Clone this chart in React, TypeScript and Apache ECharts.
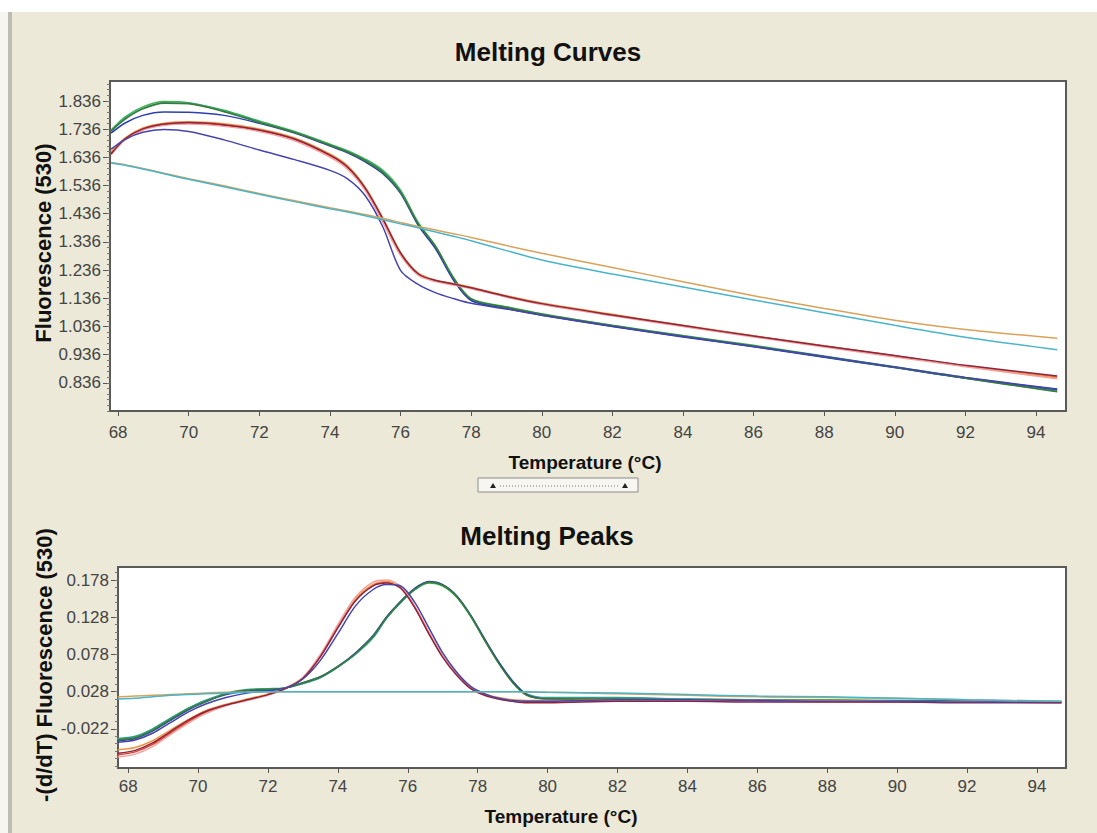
import React, { useEffect, useRef } from "react";
import * as echarts from "echarts";

const W = 1097;
const H = 833;

// ---------- axis ticks ----------
const xTickValues = [68, 70, 72, 74, 76, 78, 80, 82, 84, 86, 88, 90, 92, 94];
const curveYTicks = [0.836, 0.936, 1.036, 1.136, 1.236, 1.336, 1.436, 1.536, 1.636, 1.736, 1.836];
const peakYTicks = [-0.022, 0.028, 0.078, 0.128, 0.178];

// ---------- Melting Curves (fluorescence) ----------
const curveTemps = [67.8, 68.2, 68.7, 69.3, 70, 71, 72, 73, 74, 74.5, 75, 75.5, 76, 76.5, 77, 77.5, 78, 79, 80, 82, 84, 86, 88, 90, 92, 94.6];

const greenA = [1.733, 1.780, 1.815, 1.834, 1.830, 1.803, 1.765, 1.728, 1.683, 1.660, 1.630, 1.590, 1.520, 1.405, 1.320, 1.210, 1.135, 1.106, 1.081, 1.040, 1.004, 0.969, 0.931, 0.893, 0.855, 0.810];
const tealA = [1.728, 1.775, 1.810, 1.830, 1.828, 1.800, 1.762, 1.725, 1.680, 1.657, 1.626, 1.585, 1.515, 1.400, 1.315, 1.205, 1.132, 1.103, 1.078, 1.038, 1.001, 0.966, 0.928, 0.890, 0.852, 0.806];
const blueA = [1.722, 1.758, 1.785, 1.797, 1.796, 1.785, 1.757, 1.722, 1.676, 1.652, 1.620, 1.578, 1.508, 1.395, 1.310, 1.200, 1.128, 1.100, 1.076, 1.036, 0.999, 0.964, 0.927, 0.890, 0.853, 0.812];
const darkGreenA = [1.730, 1.772, 1.808, 1.828, 1.826, 1.798, 1.760, 1.724, 1.679, 1.655, 1.624, 1.582, 1.512, 1.400, 1.318, 1.208, 1.134, 1.104, 1.079, 1.039, 1.002, 0.967, 0.929, 0.891, 0.852, 0.804];
const redB = [1.650, 1.700, 1.735, 1.752, 1.758, 1.750, 1.732, 1.700, 1.642, 1.600, 1.525, 1.415, 1.295, 1.222, 1.198, 1.186, 1.172, 1.142, 1.116, 1.076, 1.038, 1.001, 0.966, 0.931, 0.896, 0.856];
const orangeB = [1.655, 1.705, 1.740, 1.757, 1.762, 1.755, 1.737, 1.705, 1.648, 1.606, 1.530, 1.420, 1.300, 1.225, 1.200, 1.188, 1.175, 1.145, 1.119, 1.079, 1.040, 1.003, 0.968, 0.932, 0.896, 0.854];
const pinkB = [1.645, 1.698, 1.733, 1.750, 1.754, 1.746, 1.728, 1.695, 1.637, 1.594, 1.518, 1.405, 1.288, 1.218, 1.195, 1.183, 1.170, 1.140, 1.114, 1.074, 1.036, 0.999, 0.963, 0.928, 0.893, 0.850];
const maroonB = [1.648, 1.702, 1.737, 1.754, 1.760, 1.752, 1.733, 1.701, 1.644, 1.602, 1.527, 1.418, 1.297, 1.223, 1.199, 1.187, 1.173, 1.143, 1.117, 1.077, 1.039, 1.002, 0.967, 0.933, 0.898, 0.860];
const blueLow = [1.665, 1.700, 1.725, 1.735, 1.728, 1.698, 1.662, 1.628, 1.590, 1.560, 1.500, 1.389, 1.235, 1.185, 1.155, 1.135, 1.118, 1.098, 1.076, 1.037, 1.000, 0.965, 0.929, 0.892, 0.855, 0.814];
const tanC = [1.618, 1.610, 1.597, 1.580, 1.560, 1.535, 1.508, 1.482, 1.457, 1.446, 1.433, 1.420, 1.405, 1.391, 1.378, 1.365, 1.352, 1.323, 1.296, 1.245, 1.195, 1.145, 1.100, 1.058, 1.025, 0.994];
const cyanC = [1.616, 1.608, 1.595, 1.578, 1.558, 1.532, 1.505, 1.479, 1.454, 1.442, 1.429, 1.415, 1.400, 1.386, 1.371, 1.356, 1.340, 1.305, 1.272, 1.222, 1.176, 1.130, 1.085, 1.040, 0.998, 0.953];

// ---------- Melting Peaks (-dF/dT) ----------
const peakTemps = [67.7, 68.2, 68.7, 69.2, 69.7, 70.2, 70.8, 71.4, 72, 72.5, 73, 73.5, 74, 74.5, 75, 75.4, 75.8, 76.2, 76.6, 77, 77.4, 77.8, 78.2, 78.6, 79, 79.4, 80, 82, 84, 86, 88, 90, 92, 94.7];

const greenA_d = [-0.036, -0.033, -0.023, -0.009, 0.005, 0.015, 0.025, 0.030, 0.031, 0.033, 0.039, 0.047, 0.061, 0.079, 0.101, 0.128, 0.148, 0.165, 0.174, 0.170, 0.155, 0.129, 0.097, 0.067, 0.041, 0.024, 0.019, 0.019, 0.018, 0.017, 0.017, 0.016, 0.016, 0.014];
const tealA_d = [-0.035, -0.032, -0.022, -0.008, 0.005, 0.016, 0.026, 0.031, 0.032, 0.033, 0.039, 0.047, 0.061, 0.078, 0.100, 0.127, 0.148, 0.165, 0.175, 0.171, 0.156, 0.130, 0.098, 0.068, 0.042, 0.025, 0.020, 0.020, 0.018, 0.017, 0.016, 0.016, 0.015, 0.014];
const blueA_d = [-0.038, -0.035, -0.025, -0.011, 0.003, 0.014, 0.024, 0.029, 0.030, 0.033, 0.040, 0.048, 0.062, 0.080, 0.103, 0.129, 0.150, 0.167, 0.176, 0.172, 0.157, 0.131, 0.099, 0.068, 0.042, 0.024, 0.018, 0.017, 0.016, 0.016, 0.015, 0.015, 0.015, 0.014];
const darkGreenA_d = [-0.037, -0.034, -0.024, -0.010, 0.004, 0.014, 0.025, 0.030, 0.031, 0.033, 0.040, 0.048, 0.062, 0.079, 0.102, 0.128, 0.149, 0.166, 0.175, 0.171, 0.156, 0.130, 0.097, 0.066, 0.040, 0.023, 0.018, 0.018, 0.017, 0.016, 0.016, 0.015, 0.015, 0.014];
const redB_d = [-0.057, -0.053, -0.043, -0.028, -0.013, 0.000, 0.010, 0.017, 0.024, 0.032, 0.046, 0.075, 0.114, 0.151, 0.171, 0.175, 0.167, 0.141, 0.107, 0.075, 0.051, 0.033, 0.024, 0.019, 0.016, 0.014, 0.014, 0.016, 0.016, 0.015, 0.015, 0.014, 0.014, 0.013];
const orangeB_d = [-0.050, -0.047, -0.038, -0.024, -0.010, 0.002, 0.011, 0.018, 0.025, 0.033, 0.047, 0.076, 0.115, 0.152, 0.172, 0.176, 0.168, 0.142, 0.108, 0.076, 0.052, 0.034, 0.025, 0.020, 0.017, 0.016, 0.016, 0.017, 0.017, 0.016, 0.016, 0.015, 0.014, 0.014];
const pinkB_d = [-0.060, -0.056, -0.046, -0.030, -0.015, -0.002, 0.009, 0.016, 0.023, 0.032, 0.047, 0.078, 0.118, 0.155, 0.175, 0.178, 0.169, 0.143, 0.108, 0.076, 0.051, 0.032, 0.023, 0.018, 0.015, 0.014, 0.015, 0.016, 0.016, 0.015, 0.014, 0.014, 0.014, 0.013];
const maroonB_d = [-0.055, -0.051, -0.041, -0.026, -0.011, 0.001, 0.010, 0.017, 0.024, 0.032, 0.046, 0.075, 0.114, 0.150, 0.170, 0.174, 0.167, 0.141, 0.106, 0.074, 0.050, 0.032, 0.023, 0.018, 0.015, 0.013, 0.013, 0.015, 0.015, 0.014, 0.014, 0.014, 0.013, 0.013];
const blueLow_d = [-0.040, -0.037, -0.028, -0.014, 0.000, 0.011, 0.020, 0.026, 0.029, 0.033, 0.045, 0.070, 0.106, 0.143, 0.165, 0.172, 0.170, 0.148, 0.114, 0.080, 0.054, 0.035, 0.025, 0.019, 0.016, 0.015, 0.015, 0.017, 0.017, 0.016, 0.015, 0.015, 0.014, 0.014];
const tanC_d = [0.021, 0.022, 0.023, 0.024, 0.025, 0.026, 0.027, 0.027, 0.028, 0.028, 0.028, 0.028, 0.028, 0.028, 0.028, 0.028, 0.028, 0.028, 0.028, 0.028, 0.028, 0.028, 0.028, 0.028, 0.028, 0.027, 0.027, 0.025, 0.023, 0.021, 0.020, 0.019, 0.017, 0.015];
const cyanC_d = [0.018, 0.019, 0.021, 0.023, 0.024, 0.025, 0.026, 0.027, 0.028, 0.028, 0.028, 0.028, 0.028, 0.028, 0.028, 0.028, 0.028, 0.028, 0.028, 0.028, 0.028, 0.028, 0.028, 0.028, 0.028, 0.028, 0.027, 0.026, 0.024, 0.022, 0.021, 0.019, 0.017, 0.015];

const sampleNames = ["A1", "A2", "A3", "A4", "B1", "B2", "B3", "B4", "B5", "C1", "C2"];
const sampleColors = ["#3cb54c", "#2f9f8c", "#2c3fb6", "#3d7a3a", "#e63c2e", "#f09440", "#f2a09e", "#8e2440", "#4545ad", "#d9a25a", "#4ab4c8"];
const curveSets = [greenA, tealA, blueA, darkGreenA, redB, orangeB, pinkB, maroonB, blueLow, tanC, cyanC];
const peakSets = [greenA_d, tealA_d, blueA_d, darkGreenA_d, redB_d, orangeB_d, pinkB_d, maroonB_d, blueLow_d, tanC_d, cyanC_d];

const FONT = "'Liberation Sans', Arial, sans-serif";
const BG = "#ECE9D8";

function minorTicks(lo: number, hi: number, step: number): number[] {
  const out: number[] = [];
  for (let v = lo; v <= hi + 1e-9; v += step) out.push(Math.round(v * 10000) / 10000);
  return out;
}

export default function App() {
  const ref = useRef<HTMLDivElement>(null);
  useEffect(() => {
    document.body.style.margin = "0";
    const chart = echarts.init(ref.current!, undefined, { renderer: "svg" });

    const xAxisBase = (grid: number, min: number, max: number, margin: number) => ({
      gridIndex: grid,
      type: "value",
      position: "bottom",
      min,
      max,
      axisLine: { show: false, onZero: false },
      splitLine: { show: false },
      axisTick: { show: true, customValues: xTickValues, length: 5, lineStyle: { color: "#555", width: 1 } },
      axisLabel: { customValues: xTickValues, margin, fontSize: 17, color: "#444", fontFamily: FONT },
    });
    const yAxisMain = (grid: number, min: number, max: number, ticks: number[]) => ({
      gridIndex: grid,
      type: "value",
      position: "left",
      min,
      max,
      axisLine: { show: false, onZero: false },
      splitLine: { show: false },
      axisTick: { show: true, customValues: ticks, length: 7, lineStyle: { color: "#555", width: 1 } },
      axisLabel: {
        customValues: ticks,
        margin: 9,
        fontSize: 17,
        color: "#444",
        fontFamily: FONT,
        formatter: (v: number) => v.toFixed(3),
      },
    });
    const yAxisMinor = (grid: number, min: number, max: number, ticks: number[]) => ({
      gridIndex: grid,
      type: "value",
      position: "left",
      offset: 0,
      min,
      max,
      axisLine: { show: false, onZero: false },
      splitLine: { show: false },
      axisLabel: { show: false },
      axisTick: { show: true, customValues: ticks, length: 3, lineStyle: { color: "#777", width: 1 } },
    });

    const series: any[] = [];
    sampleNames.forEach((name, i) => {
      series.push({
        name: name + " curve",
        type: "line",
        xAxisIndex: 0,
        yAxisIndex: 0,
        data: curveTemps.map((t, k) => [t, curveSets[i][k]]),
        showSymbol: false,
        smooth: 0.3,
        silent: true,
        lineStyle: { color: sampleColors[i], width: 1.5 },
      });
      series.push({
        name: name + " peak",
        type: "line",
        xAxisIndex: 1,
        yAxisIndex: 2,
        data: peakTemps.map((t, k) => [t, peakSets[i][k]]),
        showSymbol: false,
        smooth: 0.3,
        silent: true,
        lineStyle: { color: sampleColors[i], width: 1.5 },
      });
    });

    const titleStyle = { fontFamily: FONT, fontWeight: "bold", fontSize: 26, fill: "#111" };
    const xNameStyle = { fontFamily: FONT, fontWeight: "bold", fontSize: 19, fill: "#111" };
    const yNameStyle = { fontFamily: FONT, fontWeight: "bold", fontSize: 22, fill: "#111" };

    chart.setOption({
      animation: false,
      backgroundColor: BG,
      grid: [
        { left: 110, top: 81, width: 956, height: 330, show: true, backgroundColor: "#fff", borderColor: "#5a5a5a", borderWidth: 2 },
        { left: 118, top: 567, width: 948, height: 201, show: true, backgroundColor: "#fff", borderColor: "#5a5a5a", borderWidth: 2 },
      ],
      xAxis: [xAxisBase(0, 67.77, 94.85, 13), xAxisBase(1, 67.71, 94.83, 10)],
      yAxis: [
        yAxisMain(0, 0.736, 1.907, curveYTicks),
        yAxisMinor(0, 0.736, 1.907, minorTicks(0.736, 1.896, 0.02)),
        yAxisMain(1, -0.0747, 0.1956, peakYTicks),
        yAxisMinor(1, -0.0747, 0.1956, minorTicks(-0.072, 0.188, 0.01)),
      ],
      series,
      graphic: [
        { type: "rect", shape: { x: 0, y: 0, width: W, height: 12 }, style: { fill: "#fff" } },
        { type: "rect", shape: { x: 0, y: 12, width: 8, height: H - 12 }, style: { fill: "#f6f5ef" } },
        { type: "rect", shape: { x: 8, y: 12, width: 4, height: H - 12 }, style: { fill: "#bdbcb4" } },
        { type: "text", x: 548, y: 52, style: { ...titleStyle, text: "Melting Curves", align: "center", verticalAlign: "middle" } },
        { type: "text", x: 547, y: 536, style: { ...titleStyle, text: "Melting Peaks", align: "center", verticalAlign: "middle" } },
        { type: "text", x: 585, y: 462, style: { ...xNameStyle, text: "Temperature (\u00B0C)", align: "center", verticalAlign: "middle" } },
        { type: "text", x: 561, y: 816, style: { ...xNameStyle, text: "Temperature (\u00B0C)", align: "center", verticalAlign: "middle" } },
        { type: "text", x: 43, y: 243, rotation: Math.PI / 2, style: { ...yNameStyle, text: "Fluorescence (530)", align: "center", verticalAlign: "middle" } },
        { type: "text", x: 44, y: 665, rotation: Math.PI / 2, style: { ...yNameStyle, text: "-(d/dT) Fluorescence (530)", align: "center", verticalAlign: "middle" } },
        // scrollbar-like widget between the charts
        { type: "rect", shape: { x: 478, y: 478, width: 160, height: 14 }, style: { fill: "#f7f6f0", stroke: "#8a8a8a", lineWidth: 1 } },
        { type: "line", shape: { x1: 500, y1: 486, x2: 618, y2: 486 }, style: { stroke: "#777", lineWidth: 1, lineDash: [1, 2] } },
        { type: "polygon", shape: { points: [[490, 488], [496, 488], [493, 483]] }, style: { fill: "#222" } },
        { type: "polygon", shape: { points: [[622, 488], [628, 488], [625, 483]] }, style: { fill: "#222" } },
      ],
    });
    return () => chart.dispose();
  }, []);
  return <div ref={ref} style={{ width: W, height: H }} />;
}
